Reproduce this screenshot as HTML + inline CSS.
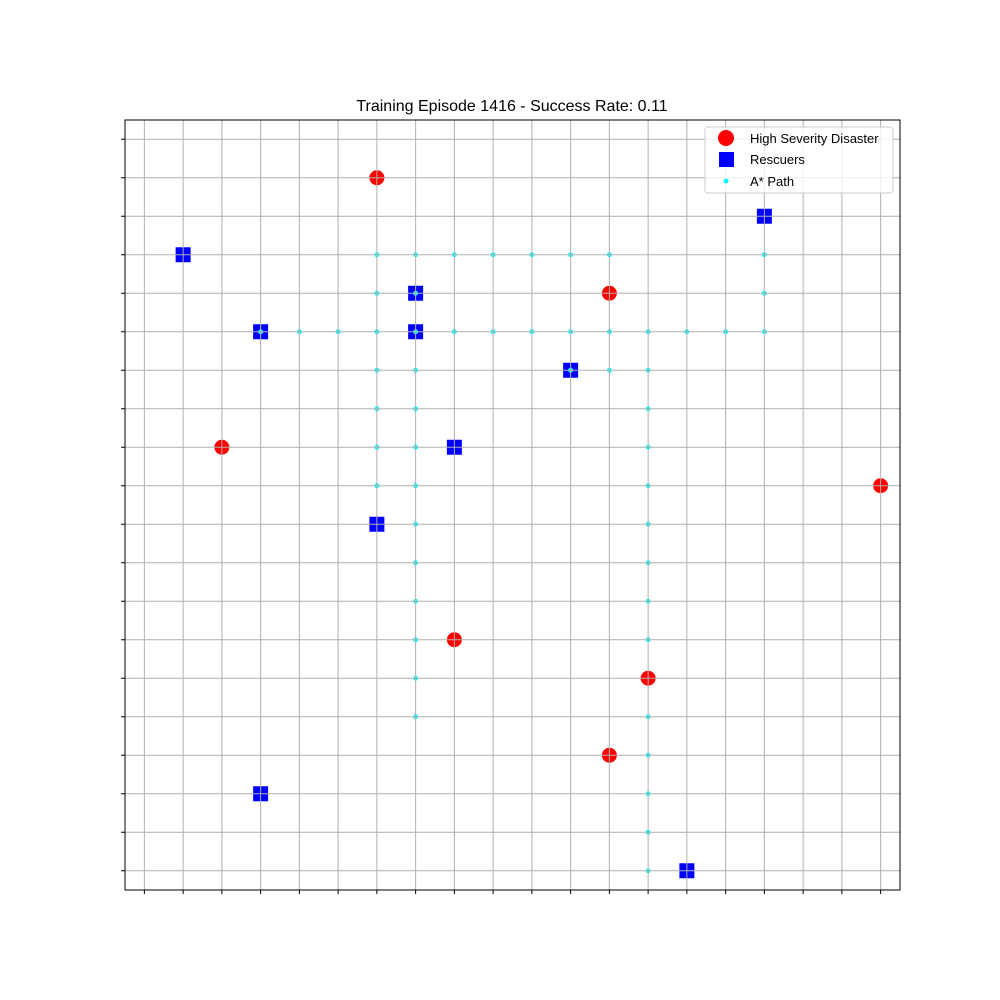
<!DOCTYPE html>
<html><head><meta charset="utf-8"><style>body{margin:0;background:#fff}svg{display:block}text{font-family:"Liberation Sans",Arial,sans-serif}</style></head>
<body>
<svg id="chart" width="1000" height="1000" viewBox="0 0 1000 1000">
<rect width="1000" height="1000" fill="#fff"/>
<text x="512" y="111" font-size="16" text-anchor="middle">Training Episode 1416 - Success Rate: 0.11</text>
<g id="plot"></g>
<g>
<rect x="705" y="127" width="188" height="66" rx="3" fill="#fff" fill-opacity="0.8" stroke="#ccc"/>
<circle cx="726" cy="138" r="8" fill="#ff0000"/>
<text x="750" y="143" font-size="13">High Severity Disaster</text>
<rect x="719" y="152" width="15" height="15" fill="#0000ff"/>
<text x="750" y="164" font-size="13">Rescuers</text>
<circle cx="726" cy="181" r="2.5" fill="#00ffff"/>
<text x="750" y="186" font-size="13">A* Path</text>
</g>
</svg>
<script>
const disasterX=[6,12,2,19,8,13,12];
const disasterY=[1,4,8,9,13,14,16];
const rescuerX=[16,1,7,3,7,11,8,6,3,14];
const rescuerY=[2,3,4,5,5,6,8,10,17,19];
const pathX=[6,7,8,9,10,11,12,16, 6,7,16, 3,4,5,6,7,8,9,10,11,12,13,14,15,16, 6,7,11,12,13, 6,7,13, 6,7,13, 6,7,13, 7,13, 7,13, 7,13, 7,13, 7, 7,13, 13, 13, 13, 13];
const pathY=[3,3,3,3,3,3,3,3, 4,4,4, 5,5,5,5,5,5,5,5,5,5,5,5,5,5, 6,6,6,6,6, 7,7,7, 8,8,8, 9,9,9, 10,10, 11,11, 12,12, 13,13, 14, 15,15, 16, 17, 18, 19];
const ticks=[0,1,2,3,4,5,6,7,8,9,10,11,12,13,14,15,16,17,18,19];
const NS="http://www.w3.org/2000/svg";
const L=125,R=900,T=120,B=890;
const sx=v=>L+(v+0.5)*(R-L)/20;
const sy=v=>T+(v+0.5)*(B-T)/20;
const g=document.getElementById('plot');
function mk(t,a){const e=document.createElementNS(NS,t);for(const k in a)e.setAttribute(k,a[k]);g.appendChild(e);return e;}
disasterX.forEach((x,i)=>{const e=mk('circle',{cx:sx(x),cy:sy(disasterY[i]),r:8,fill:'#ff0000',stroke:'#fff','stroke-width':1});

});
rescuerX.forEach((x,i)=>{const e=mk('rect',{x:sx(x)-8,y:sy(rescuerY[i])-8,width:16,height:16,fill:'#0000ff',stroke:'#fff','stroke-width':1});

});
pathX.forEach((x,i)=>{const e=mk('circle',{cx:sx(x),cy:sy(pathY[i]),r:2.5,fill:'#00ffff'});

});
ticks.forEach(t=>{
const a=mk('line',{x1:sx(t),x2:sx(t),y1:T,y2:B,stroke:'#b0b0b0','stroke-width':1});


const b=mk('line',{x1:L,x2:R,y1:sy(t),y2:sy(t),stroke:'#b0b0b0','stroke-width':1});


const c=mk('line',{x1:sx(t),x2:sx(t),y1:B,y2:B+4,stroke:'#000'});


const d=mk('line',{x1:L-4,x2:L,y1:sy(t),y2:sy(t),stroke:'#000'});


});
const f=mk('rect',{x:L,y:T,width:R-L,height:B-T,fill:'none',stroke:'#000','stroke-width':1});


</script>
</body></html>
